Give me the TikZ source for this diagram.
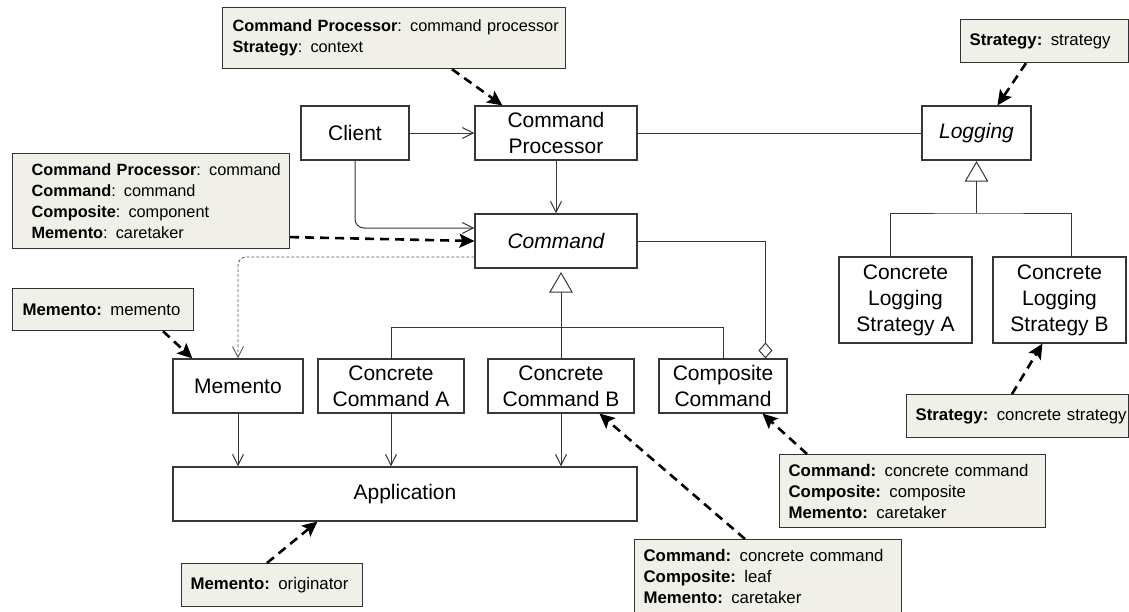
\documentclass[tikz,border=0pt]{standalone}
\usepackage{fontspec}
\setmainfont{Liberation Sans}
\usetikzlibrary{arrows.meta,calc}
\definecolor{notefill}{RGB}{240,240,232}
\definecolor{ln}{RGB}{55,55,55}
\newcommand{\boxfont}{\fontsize{21}{26}\selectfont}
\newcommand{\notefont}{\fontsize{16.8}{21}\selectfont}
\newcommand{\notefontb}{\fontsize{16.3}{21}\selectfont}
\begin{document}
\begin{tikzpicture}[x=1pt,y=-1pt,
  cls/.style={draw=ln, line width=1.1pt, fill=white, font=\boxfont, align=center, inner sep=0pt},
  note/.style={draw=black!80, line width=1.2pt, fill=notefill, font=\notefont, align=left,
               anchor=north west, inner ysep=0pt},
  line/.style={draw=ln, line width=1pt},
  assoc/.style={line, -{Straight Barb[length=11pt,width=11pt]}},
  dep/.style={draw=black!65, line width=0.9pt, dash pattern=on 3pt off 2pt, -{Straight Barb[length=11pt,width=11pt]}},
  ptr/.style={draw=black, line width=2.6pt, dash pattern=on 9pt off 6pt, -{Stealth[length=15pt,width=14pt,inset=3pt]}},
  gentri/.style={draw=ln, line width=1pt, fill=white, line join=miter}
]
\useasboundingbox (0,0) rectangle (1129,611);

% classes
\node[cls, minimum width=108, minimum height=54] (client) at (355,133) {Client};
\node[cls, minimum width=162, minimum height=54] (cp) at (556,133) {Command\\Processor};
\node[cls, minimum width=162, minimum height=54] (cmd) at (556,241) {\itshape Command};
\node[cls, minimum width=109, minimum height=54] (log) at (976.5,133) {\itshape Logging};
\node[cls, minimum width=133, minimum height=86] (clsa) at (905.5,300) {Concrete\\Logging\\Strategy A};
\node[cls, minimum width=133, minimum height=86] (clsb) at (1059.5,300) {Concrete\\Logging\\Strategy B};
\node[cls, minimum width=130, minimum height=54] (mem) at (238,386) {Memento};
\node[cls, minimum width=146, minimum height=54] (cca) at (391,386) {Concrete\\Command A};
\node[cls, minimum width=146, minimum height=54] (ccb) at (561,386) {Concrete\\Command B};
\node[cls, minimum width=128, minimum height=54] (comp) at (723,386) {Composite\\Command};
\node[cls, minimum width=464, minimum height=54] (app) at (405,494) {Application};

% notes
\node[note, inner xsep=10pt, text width=323pt, minimum height=61, font=\notefontb] (n1) at (222,7)
  {\mbox{\textbf{Command Processor}: command processor}\\\mbox{\textbf{Strategy}: context}};
\node[note, inner xsep=19pt, text width=239pt, minimum height=95, font=\notefontb] (n2) at (12,153)
  {\mbox{\textbf{Command Processor}: command}\\\mbox{\textbf{Command}: command}\\\mbox{\textbf{Composite}: component}\\\mbox{\textbf{Memento}: caretaker}};
\node[note, inner xsep=10pt, text width=161pt, minimum height=42] (n3) at (12,288)
  {\mbox{\textbf{Memento:} memento}};
\node[note, inner xsep=9pt, text width=150pt, minimum height=43] (n4) at (960,19)
  {\mbox{\textbf{Strategy:} strategy}};
\node[note, inner xsep=9pt, text width=204pt, minimum height=43] (n5) at (906,394)
  {\mbox{\textbf{Strategy:} concrete strategy}};
\node[note, inner xsep=9pt, text width=248pt, minimum height=73] (n6) at (779,454)
  {\mbox{\textbf{Command:} concrete command}\\\mbox{\textbf{Composite:} composite}\\\mbox{\textbf{Memento:} caretaker}};
\node[note, inner xsep=9pt, text width=249pt, minimum height=73] (n7) at (634,539)
  {\mbox{\textbf{Command:} concrete command}\\\mbox{\textbf{Composite:} leaf}\\\mbox{\textbf{Memento:} caretaker}};
\node[note, inner xsep=9pt, text width=163pt, minimum height=43] (n8) at (181,563)
  {\mbox{\textbf{Memento:} originator}};

% associations
\draw[assoc] (client.east) -- (cp.west);
\draw[assoc, rounded corners=9pt] (client.south) |- ([yshift=13pt]cmd.west);
\draw[assoc] (cp.south) -- (cmd.north);
\draw[line] (cp.east) -- (log.west);
\draw[line, -{Diamond[open,length=16pt,width=14pt]}] (cmd.east) -| ([xshift=107pt]comp.north west);
\draw[dep, rounded corners=8pt] ([yshift=-16pt]cmd.west) -| (mem.north);
\draw[assoc] (mem.south) -- (mem.south |- app.north);
\draw[assoc] (cca.south) -- (cca.south |- app.north);
\draw[assoc] (ccb.south) -- (ccb.south |- app.north);

% generalization: Command
\coordinate (g1) at (561,273);
\coordinate (g1b) at (561,292);
\coordinate (h1) at (0,327);
\draw[gentri] (g1) -- ++(-11,19) -- ++(22,0) -- cycle;
\draw[line] (g1b) -- (ccb.north);
\draw[line] (cca.north) |- (h1 -| comp.north) -- (comp.north);

% generalization: Logging
\coordinate (g2) at (976.5,162);
\coordinate (g2b) at (976.5,181);
\coordinate (h2) at (976.5,213);
\draw[gentri] (g2) -- ++(-11,19) -- ++(22,0) -- cycle;
\draw[line] (g2b) -- (h2);
\draw[line] ([xshift=-15.5pt]clsa.north) |- (h2) -| ([xshift=11.5pt]clsb.north);

% note pointers
\draw[ptr] ([xshift=230pt]n1.south west) -- ([xshift=28pt]cp.north west);
\draw[ptr] ([yshift=-36pt]n2.east) -- (cmd.west);
\draw[ptr] ([xshift=151pt]n3.south west) -- ([xshift=20pt]mem.north west);
\draw[ptr] ([xshift=66pt]n4.south west) -- ([xshift=76pt]log.north west);
\draw[ptr] ([xshift=106pt]n5.north west) -- ([xshift=50pt]clsb.south west);
\draw[ptr] ([xshift=28pt]n6.north west) -- ([xshift=104pt]comp.south west);
\draw[ptr] ([xshift=111pt]n7.north west) -- ([xshift=112pt]ccb.south west);
\draw[ptr] ([xshift=86pt]n8.north west) -- ([xshift=145pt]app.south west);
\end{tikzpicture}
\end{document}
